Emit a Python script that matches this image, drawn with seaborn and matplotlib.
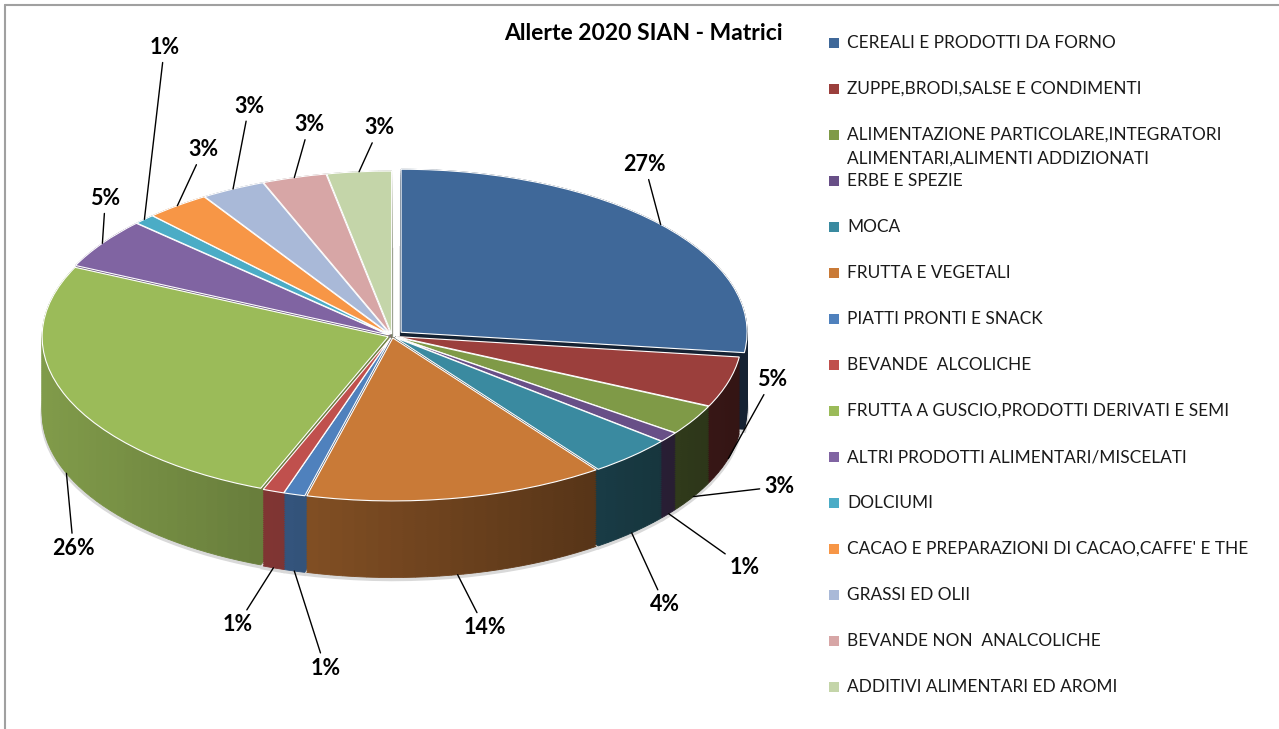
import numpy as np
import pandas as pd
import matplotlib
matplotlib.use("Agg")
import matplotlib.pyplot as plt
import matplotlib.colors as mcolors
from matplotlib.lines import Line2D
import seaborn as sns

# data (percent of alerts per food category)
categories = [
    "CEREALI E PRODOTTI DA FORNO",
    "ZUPPE,BRODI,SALSE E CONDIMENTI",
    "ALIMENTAZIONE PARTICOLARE,INTEGRATORI\nALIMENTARI,ALIMENTI ADDIZIONATI",
    "ERBE E SPEZIE",
    "MOCA",
    "FRUTTA E VEGETALI",
    "PIATTI PRONTI E SNACK",
    "BEVANDE  ALCOLICHE",
    "FRUTTA A GUSCIO,PRODOTTI DERIVATI E SEMI",
    "ALTRI PRODOTTI ALIMENTARI/MISCELATI",
    "DOLCIUMI",
    "CACAO E PREPARAZIONI DI CACAO,CAFFE' E THE",
    "GRASSI ED OLII",
    "BEVANDE NON  ANALCOLICHE",
    "ADDITIVI ALIMENTARI ED AROMI",
]
percent = [27, 5, 3, 1, 4, 14, 1, 1, 26, 5, 1, 3, 3, 3, 3]
title = "Allerte 2020 SIAN - Matrici"

top_colors = [
    "#3f6899", "#9b3f3c", "#7f9a47", "#684f87", "#3a8aa0",
    "#c97a37", "#4f81bd", "#c0504d", "#9bbb59", "#8064a2",
    "#4bacc6", "#f79646", "#a9b9d8", "#d7a6a6", "#c4d5a9",
]

# styling / layout
explode = [0.035] + [0.012] * 14
# label offset from the slice rim, in pixels (x right, y up)
label_offsets = [(-16, 60), (44, 79), (86, 10), (76, -54), (33, -72),
                 (27, -53), (31, -97), (-36, -57), (7, -75), (3, 45),
                 (20, 172), (26, 56), (16, 83), (15, 53), (20, 44)]
depth = 0.47
n_layers = 40
sub_step = 2.0  # degrees per shading strip on the side walls

sns.set_theme(style="white")
plt.rcParams['font.family'] = ['Lato', 'DejaVu Sans']

W, H = 1279, 729
fig = plt.figure(figsize=(W / 100, H / 100), dpi=100)
fig.patch.set_facecolor("white")

ax = fig.add_axes([0, 0, 1, 1])

# slice angles
frac = np.array(percent) / np.sum(percent)
start = 90 - 360 * np.concatenate([[0], np.cumsum(frac)[:-1]])
mid = np.deg2rad(start - 360 * frac / 2)


def side_shade(theta):
    # side walls lit from the left, darker toward the right
    return 0.58 - 0.25 * np.cos(theta)


# soft shadow under the pie
ax.pie(percent, colors=["#d9d9d9"] * len(percent), startangle=90, counterclock=False,
       explode=explode, center=(0, -depth - 0.012),
       wedgeprops=dict(linewidth=2.5, edgecolor="#d9d9d9"))

# shading strips for each slice's side wall
strips = []
for i, (f, s0, th, e) in enumerate(zip(frac, start, mid, explode)):
    n_sub = max(1, int(round(f * 360 / sub_step)))
    sub_vals = [f / n_sub] * n_sub
    sub_mid = np.deg2rad(s0 - 360 * f * (np.arange(n_sub) + 0.5) / n_sub)
    rgb = np.array(mcolors.to_rgb(top_colors[i]))
    sub_cols = [tuple(np.clip(rgb * side_shade(a), 0, 1)) for a in sub_mid]
    strips.append((sub_vals, sub_cols, s0, e * np.cos(th), e * np.sin(th)))

# side walls: stack copies of the pie, layer by layer from the bottom up
for d in np.linspace(depth, 0, n_layers):
    for sub_vals, sub_cols, s0, ox, oy in strips:
        wedges, _ = ax.pie(sub_vals, colors=sub_cols, startangle=s0, counterclock=False,
                           normalize=False, center=(ox, oy - d),
                           wedgeprops=dict(linewidth=0))
        for w in wedges:
            w.set_edgecolor(w.get_facecolor())
            w.set_linewidth(0.6)

# top face
ax.pie(percent, colors=top_colors, startangle=90, counterclock=False,
       explode=explode, center=(0, 0),
       wedgeprops=dict(linewidth=0.8, edgecolor="white"))

# ellipse: center at pixel (392, 336), radii 346 x 163 px
cx, cy, rx, ry = 392, 336, 346, 163
ax.set_aspect("auto")
ax.set_xlim(-cx / rx, (W - cx) / rx)
ax.set_ylim(-(H - cy) / ry, cy / ry)
ax.axis("off")

# percentage labels with leader lines
for p, th, e, (dx, dy) in zip(percent, mid, explode, label_offsets):
    x = (1 + e) * np.cos(th)
    y = (1 + e) * np.sin(th)
    if y < 0:
        y -= depth
    ax.annotate(f"{p}%", xy=(x, y), xytext=(dx, dy), textcoords="offset pixels",
                ha="center", va="center", fontsize=15.5, fontweight="bold",
                color="black",
                arrowprops=dict(arrowstyle="-", color="black", lw=1,
                                shrinkA=1, shrinkB=0))

# title
fig.text(643 / W, 1 - 33 / H, title, ha="center", va="center",
         fontsize=16.5, fontweight="bold", color="black")

# legend on the right
lax = fig.add_axes([0, 0, 1, 1])
leg = pd.DataFrame({"name": categories, "row": np.arange(len(categories))})
leg["y"] = 43 + 46 * leg["row"]
leg["x"] = 834
sns.scatterplot(data=leg, x="x", y="y", hue="name", palette=top_colors,
                marker="s", s=42, linewidth=0, legend=False, ax=lax)
for name, yy in zip(leg["name"], leg["y"]):
    for j, line in enumerate(name.split("\n")):
        lax.text(847, yy + 24 * j, line, ha="left", va="center",
                 fontsize=12.4, color="#1a1a1a")
lax.set_xlim(0, W)
lax.set_ylim(H, 0)
lax.axis("off")

# chart border (left and top edges visible)
fig.add_artist(Line2D([4.5 / W, 4.5 / W], [0, 1 - 4.5 / H], color="#a0a0a0", lw=1.5))
fig.add_artist(Line2D([4.5 / W, 1], [1 - 4.5 / H, 1 - 4.5 / H], color="#a0a0a0", lw=1.5))

fig.savefig("out.png", dpi=100)
